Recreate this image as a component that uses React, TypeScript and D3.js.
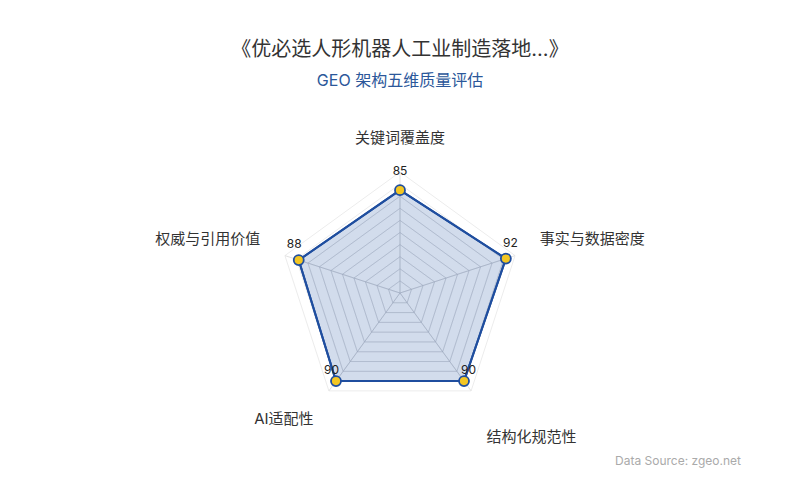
import * as React from "react";
import * as d3 from "d3";

// radar data
const indicators = ["关键词覆盖度", "事实与数据密度", "结构化规范性", "AI适配性", "权威与引用价值"];
const scores = [85, 92, 90, 90, 88];
const maxScore = 100;
const splitCount = 10;

const title = "《优必选人形机器人工业制造落地...》";
const subtitle = "GEO 架构五维质量评估";
const source = "Data Source: zgeo.net";

const W = 800;
const H = 500;
const FONT = "Inter, 'Noto Sans CJK SC', 'Noto Sans', sans-serif";

const BLUE = "#1f4e9f";
const GOLD = "#f3c623";

export default function App() {
  const cx = 400;
  const cy = 293;
  const R = 121;
  const n = indicators.length;

  const angle = (i: number) => (i / n) * Math.PI * 2; // 0 = up, clockwise
  const r = d3.scaleLinear().domain([0, maxScore]).range([0, R]);
  const pt = (i: number, rad: number): [number, number] => [
    cx + rad * Math.sin(angle(i)),
    cy - rad * Math.cos(angle(i)),
  ];

  const ringPath = (rad: number) =>
    d3
      .line<number>()
      .x((_, i) => pt(i, rad)[0])
      .y((_, i) => pt(i, rad)[1])
      .curve(d3.curveLinearClosed)(indicators.map(() => 0)) ?? "";

  const dataPath =
    d3
      .line<number>()
      .x((v, i) => pt(i, r(v))[0])
      .y((v, i) => pt(i, r(v))[1])
      .curve(d3.curveLinearClosed)(scores) ?? "";

  const levels = d3.range(1, splitCount + 1).map((k) => (maxScore / splitCount) * k);
  const nameGap = 147;
  const nameSize = 15;
  // the lower-right name sits a little lower in the reference
  const nameNudge = [0, 0, 18, 0, 0];

  return (
    <svg
      width={W}
      height={H}
      style={{ position: "absolute", left: 0, top: 0, background: "#fff" }}
      fontFamily={FONT}
    >
      <text x={W / 2} y={51} textAnchor="middle" dominantBaseline="middle" fontSize={20} fill="#333">
        {title}
      </text>
      <text x={W / 2} y={82} textAnchor="middle" dominantBaseline="middle" fontSize={16} fill="#2b579a">
        {subtitle}
      </text>

      {/* split rings */}
      {levels.map((lv) => (
        <path key={lv} d={ringPath(r(lv))} fill="none" stroke="#ececec" strokeWidth={1} />
      ))}
      {/* axis spokes */}
      {indicators.map((_, i) => {
        const [x, y] = pt(i, R);
        return <line key={i} x1={cx} y1={cy} x2={x} y2={y} stroke="#e2e2e2" strokeWidth={1} />;
      })}

      <path d={dataPath} fill={BLUE} fillOpacity={0.2} stroke={BLUE} strokeWidth={2} strokeLinejoin="round" />
      {/* grid showing through the fill */}
      <clipPath id="area-clip">
        <path d={dataPath} />
      </clipPath>
      <g clipPath="url(#area-clip)">
        {levels.map((lv) => (
          <path key={"in" + lv} d={ringPath(r(lv))} fill="none" stroke="#8a99b4" strokeOpacity={0.3} strokeWidth={1} />
        ))}
        {indicators.map((_, i) => {
          const [x, y] = pt(i, R);
          return <line key={i} x1={cx} y1={cy} x2={x} y2={y} stroke="#8a99b4" strokeOpacity={0.3} strokeWidth={1} />;
        })}
      </g>
      <path d={dataPath} fill="none" stroke={BLUE} strokeWidth={2} strokeLinejoin="round" />

      {scores.map((v, i) => {
        const [x, y] = pt(i, r(v));
        const s = Math.sin(angle(i));
        const c = Math.cos(angle(i));
        const dx = Math.abs(s) < 1e-6 ? 0 : Math.sign(s) * 4.5;
        const dy = -14 - 4 * c;
        return (
          <g key={i}>
            <circle cx={x} cy={y} r={5} fill={GOLD} stroke={BLUE} strokeWidth={1.8} />
            <text x={x + dx} y={y + dy} textAnchor="middle" dominantBaseline="middle" fontSize={12} fill="#222">
              {v}
            </text>
          </g>
        );
      })}

      {indicators.map((name, i) => {
        const [x, y] = pt(i, nameGap);
        const s = Math.sin(angle(i));
        const c = Math.cos(angle(i));
        const anchor = Math.abs(s) < 1e-6 ? "middle" : s > 0 ? "start" : "end";
        const dy = c > 0.1 ? -nameSize / 2 : c < -0.1 ? nameSize / 2 : 0;
        return (
          <text
            key={name}
            x={x}
            y={y + dy + nameNudge[i]}
            textAnchor={anchor}
            dominantBaseline="middle"
            fontSize={nameSize}
            fill="#333"
          >
            {name}
          </text>
        );
      })}

      <text x={741} y={462} textAnchor="end" dominantBaseline="middle" fontSize={12} fill="#aaa">
        {source}
      </text>
    </svg>
  );
}
